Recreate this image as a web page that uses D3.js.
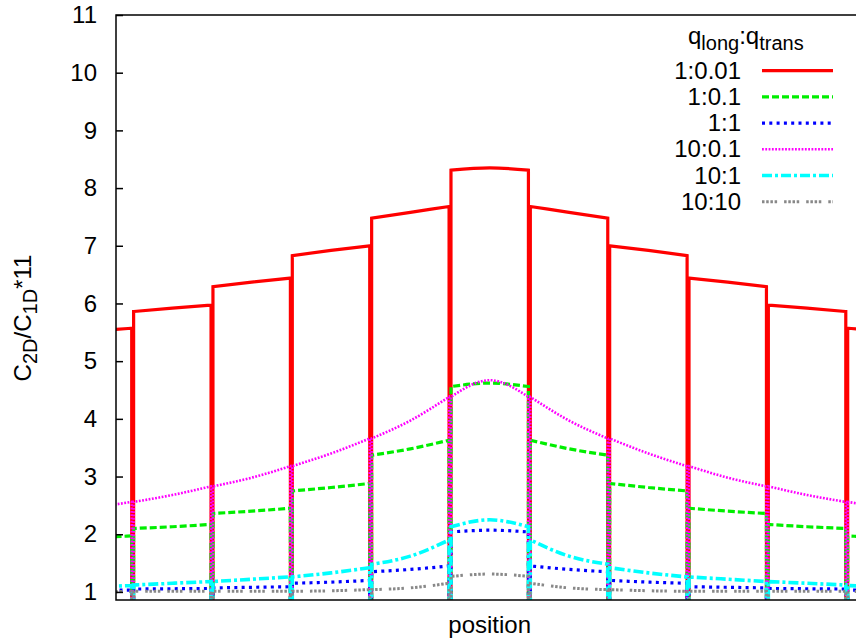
<!DOCTYPE html>
<html><head><meta charset="utf-8">
<script src="https://cdn.jsdelivr.net/npm/d3@7"></script>
<style>
body{margin:0;background:#fff}
svg{display:block}
text{font-family:"Liberation Sans",Arial,Helvetica,sans-serif;fill:#000}
</style>
</head><body>
<svg id="chart" width="856" height="644"></svg>
<script>
// ---- data ----
const cellCenters = [-5, -4, -3, -2, -1, 0, 1, 2, 3, 4, 5];
const cellHalf = 0.5;
const wallGap = 0.012;
const wallValue = 0;
const xDomain = [-4.71, 4.71];
const yDomain = [0.86, 11];
const yTicks = [1, 2, 3, 4, 5, 6, 7, 8, 9, 10, 11];
const seriesNames = ["1:0.01", "1:0.1", "1:1", "10:0.1", "10:1", "10:10"];

// values per cell: [left edge, centre, right edge]
const red = [
  [5.46, 5.52, 5.57], [5.86, 5.92, 5.97], [6.29, 6.37, 6.44], [6.83, 6.92, 7.00],
  [7.48, 7.58, 7.68], [8.31, 8.35, 8.31], [7.68, 7.58, 7.48], [7.00, 6.92, 6.83],
  [6.44, 6.37, 6.29], [5.97, 5.92, 5.86], [5.57, 5.52, 5.46]
];
const green = [
  [1.90, 1.94, 1.97], [2.10, 2.13, 2.17], [2.36, 2.40, 2.45], [2.75, 2.81, 2.88],
  [3.37, 3.48, 3.63], [4.56, 4.62, 4.56], [3.63, 3.48, 3.37], [2.88, 2.81, 2.75],
  [2.45, 2.40, 2.36], [2.17, 2.13, 2.10], [1.97, 1.94, 1.90]
];
const blue = [
  [1.02, 1.03, 1.03], [1.05, 1.055, 1.06], [1.07, 1.08, 1.09], [1.15, 1.17, 1.20],
  [1.35, 1.39, 1.45], [2.04, 2.07, 2.04], [1.45, 1.39, 1.35], [1.20, 1.17, 1.15],
  [1.09, 1.08, 1.07], [1.06, 1.055, 1.05], [1.03, 1.03, 1.02]
];
const magenta = [
  [2.38, 2.46, 2.56], [2.56, 2.68, 2.83], [2.83, 2.98, 3.18], [3.18, 3.40, 3.66],
  [3.66, 3.97, 4.38], [4.38, 4.67, 4.38], [4.38, 3.97, 3.66], [3.66, 3.40, 3.18],
  [3.18, 2.98, 2.83], [2.83, 2.68, 2.56], [2.56, 2.46, 2.38]
];
const cyan = [
  [1.08, 1.09, 1.11], [1.12, 1.15, 1.18], [1.18, 1.22, 1.26], [1.26, 1.33, 1.42],
  [1.48, 1.62, 1.90], [2.13, 2.25, 2.13], [1.90, 1.62, 1.48], [1.42, 1.33, 1.26],
  [1.26, 1.22, 1.18], [1.18, 1.15, 1.12], [1.11, 1.09, 1.08]
];
const gray = [
  [1.00, 1.00, 1.01], [1.01, 1.01, 1.01], [1.01, 1.01, 1.01], [1.01, 1.02, 1.04],
  [1.04, 1.07, 1.15], [1.27, 1.31, 1.27], [1.15, 1.07, 1.04], [1.04, 1.02, 1.01],
  [1.01, 1.01, 1.01], [1.01, 1.01, 1.01], [1.01, 1.00, 1.00]
];
const seriesValues = [red, green, blue, magenta, cyan, gray];

// ---- styles ----
const styles = [
  {color: "#ff0000", width: 3.2, dash: null},
  {color: "#00ee00", width: 3.2, dash: "7,3"},
  {color: "#0000ff", width: 3.2, dash: "3,4.3"},
  {color: "#ff00ff", width: 2.6, dash: "1.8,1.5"},
  {color: "#00ffff", width: 3.6, dash: "10,3,3,3"},
  {color: "#888888", width: 3.0, dash: "2.5,1.7,2.5,1.7,2.5,1.7,2.5,7"}
];

const fontSize = 24;
const subSize = 20;
const plot = {left: 116, top: 15, bottom: 600, right: 863.4};

const svg = d3.select("#chart");
const x = d3.scaleLinear().domain(xDomain).range([plot.left, plot.right]);
const y = d3.scaleLinear().domain(yDomain).range([plot.bottom, plot.top]);

svg.append("defs").append("clipPath").attr("id", "clip")
  .append("rect").attr("x", plot.left).attr("y", plot.top)
  .attr("width", plot.right - plot.left).attr("height", plot.bottom - plot.top);

const curve = d3.line().x(d => x(d[0])).y(d => y(d[1])).curve(d3.curveMonotoneX);

const gData = svg.append("g").attr("clip-path", "url(#clip)");
seriesValues.forEach((vals, si) => {
  let d = "";
  cellCenters.forEach((c, i) => {
    const v = vals[i];
    const xl = c - cellHalf + wallGap, xr = c + cellHalf - wallGap;
    const pts = [[xl, v[0]], [c, v[1]], [xr, v[2]]];
    d += (i === 0 ? "M" : "L") + x(xl) + "," + y(wallValue) + "L" + curve(pts).slice(1)
       + "L" + x(xr) + "," + y(wallValue);
  });
  const st = styles[si];
  gData.append("path").attr("d", d).attr("fill", "none")
    .attr("stroke", st.color).attr("stroke-width", st.width)
    .attr("stroke-dasharray", st.dash).attr("stroke-linejoin", "miter");
});

// ---- axes ----
const yAxis = d3.axisLeft(y).tickValues(yTicks).tickSizeInner(-7).tickSizeOuter(0).tickPadding(19);
const gy = svg.append("g").attr("transform", `translate(${plot.left},0)`).call(yAxis);
gy.select(".domain").remove();
gy.selectAll(".tick line").attr("stroke", "#000").attr("stroke-width", 1.5);
gy.selectAll(".tick text").attr("font-size", fontSize)
  .attr("font-family", '"Liberation Sans",Arial,sans-serif').attr("fill", "#000");

svg.append("rect").attr("x", plot.left).attr("y", plot.top)
  .attr("width", plot.right - plot.left).attr("height", plot.bottom - plot.top)
  .attr("fill", "none").attr("stroke", "#000").attr("stroke-width", 1.5);

// x label
svg.append("text").attr("x", (plot.left + plot.right) / 2).attr("y", 633)
  .attr("text-anchor", "middle").attr("font-size", fontSize).text("position");

// y label
const yl = svg.append("text").attr("transform", "translate(31,318) rotate(-90)")
  .attr("text-anchor", "middle").attr("font-size", fontSize);
yl.append("tspan").text("C");
yl.append("tspan").attr("font-size", subSize).attr("dy", 6).text("2D");
yl.append("tspan").attr("dy", -6).text("/C");
yl.append("tspan").attr("font-size", subSize).attr("dy", 6).text("1D");
yl.append("tspan").attr("dy", -6).text("*11");

// ---- legend ----
const lt = svg.append("text").attr("x", 688).attr("y", 44).attr("font-size", fontSize);
lt.append("tspan").text("q");
lt.append("tspan").attr("font-size", subSize).attr("dy", 6).text("long");
lt.append("tspan").attr("dy", -6).text(":q");
lt.append("tspan").attr("font-size", subSize).attr("dy", 6).text("trans");

const legRow0 = 70.7, legStep = 26.2;
seriesNames.forEach((name, i) => {
  const ry = legRow0 + i * legStep;
  svg.append("text").attr("x", 741).attr("y", ry).attr("dy", "0.34em")
    .attr("text-anchor", "end").attr("font-size", fontSize).text(name);
  const st = styles[i];
  svg.append("line").attr("x1", 762).attr("x2", 833).attr("y1", ry).attr("y2", ry)
    .attr("stroke", st.color).attr("stroke-width", st.width).attr("stroke-dasharray", st.dash);
});
</script>
</body></html>
